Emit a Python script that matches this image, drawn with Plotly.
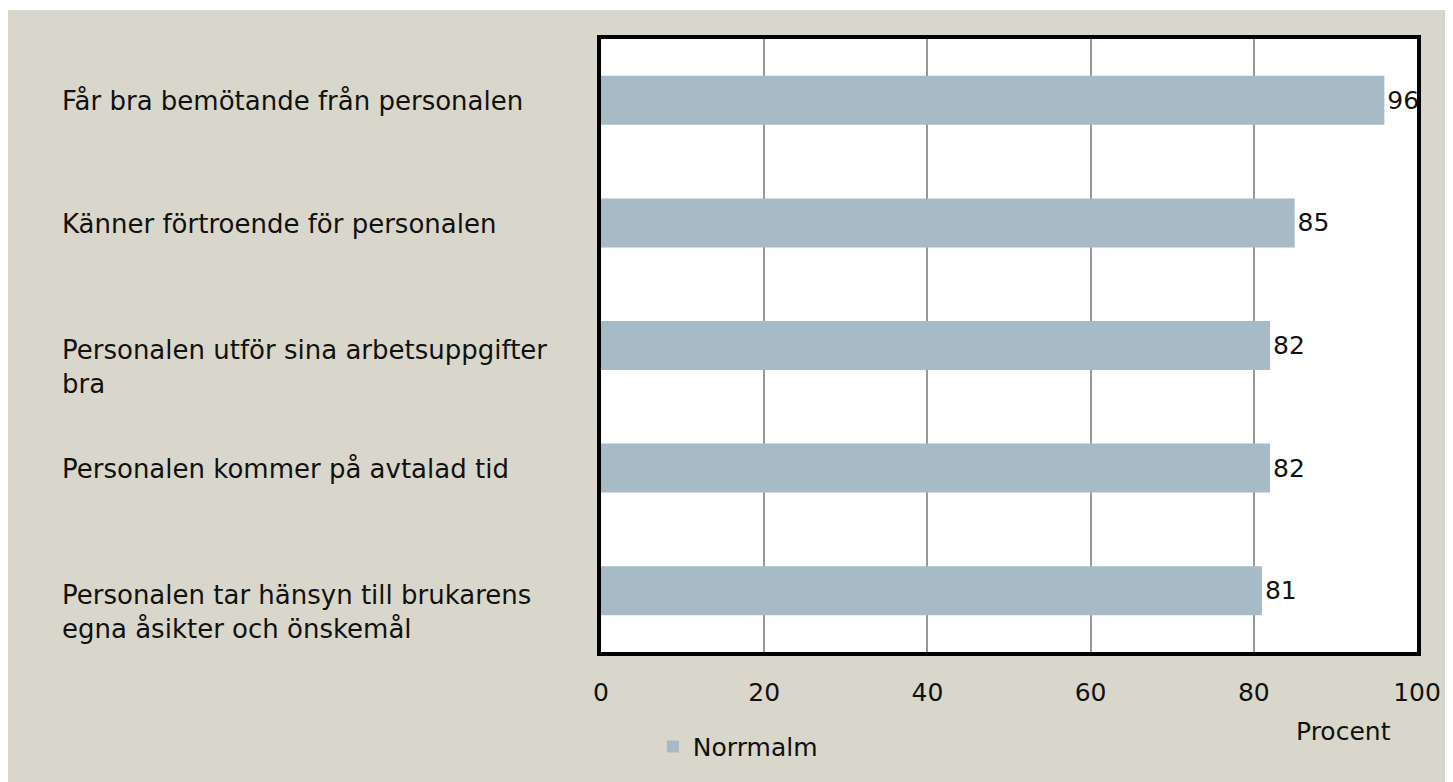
import plotly.graph_objects as go

categories = [
    "Får bra bemötande från personalen",
    "Känner förtroende för personalen",
    "Personalen utför sina arbetsuppgifter<br>bra",
    "Personalen kommer på avtalad tid",
    "Personalen tar hänsyn till brukarens<br>egna åsikter och önskemål",
]
values = [96, 85, 82, 82, 81]
series_name = "Norrmalm"
tick_vals = [0, 20, 40, 60, 80, 100]
x_title = "Procent"

# page body adds an 8px offset; work in screen coordinates and convert
OFF = 8
W, H = 1453 - OFF, 782 - OFF
ML = 601 - OFF
MT = 39 - OFF
MR = W - (1419 - OFF)
MB = H - (654 - OFF)
PW, PH = W - ML - MR, H - MT - MB

BG = "#D9D7CB"
BAR = "#A7BBC6"
FONT = "DejaVu Sans, Lato, sans-serif"
FS = 25

fig = go.Figure()
fig.add_trace(go.Bar(
    y=categories, x=values, orientation="h", name=series_name,
    marker=dict(color=BAR, line=dict(width=0)),
    text=[str(v) for v in values], textposition="outside",
    textfont=dict(size=FS, color="#111", family=FONT),
    cliponaxis=False, showlegend=True,
))

def px_x(p):
    return (p - OFF - ML) / PW

def px_y(p):
    return (H - MB - (p - OFF)) / PH

shapes = [
    dict(type="rect", xref="paper", yref="paper", layer="below",
         x0=px_x(5), x1=px_x(1470), y0=px_y(800), y1=px_y(10),
         fillcolor=BG, line=dict(width=0)),
    dict(type="rect", xref="paper", yref="paper", layer="below",
         x0=0, x1=1, y0=0, y1=1, fillcolor="white", line=dict(width=0)),
]

annotations = []
for c in categories:
    two = "<br>" in c
    annotations.append(dict(
        x=px_x(59), xref="paper", y=c, yref="y", xanchor="left", yanchor="middle",
        text=c, showarrow=False, align="left", yshift=-21 if two else -1,
        font=dict(size=26, color="#111", family=FONT),
    ))
annotations.append(dict(
    x=px_x(1345), xref="paper", y=px_y(734), yref="paper", xanchor="center", yanchor="middle",
    text=x_title, showarrow=False, font=dict(size=FS, color="#111", family=FONT),
))

fig.update_layout(
    width=W, height=H,
    margin=dict(l=ML, r=MR, t=MT, b=MB),
    paper_bgcolor="white", plot_bgcolor="white",
    bargap=0.6,
    shapes=shapes, annotations=annotations,
    showlegend=True,
    legend=dict(x=px_x(653), y=px_y(749), xanchor="left", yanchor="middle",
                bgcolor="rgba(0,0,0,0)", font=dict(size=FS, color="#111", family=FONT),
                itemwidth=30),
    xaxis=dict(range=[0, 100], tickvals=tick_vals, showgrid=True, gridcolor="#999999",
               gridwidth=1.5, zeroline=False, showline=True, linecolor="black",
               linewidth=4, mirror=True, ticks="", ticklabelstandoff=15,
               tickfont=dict(size=FS, color="#111", family=FONT)),
    yaxis=dict(autorange="reversed", showticklabels=False, showgrid=False,
               zeroline=False, showline=True, linecolor="black", linewidth=4,
               mirror=True, ticks=""),
)

fig.write_html("out.html")
